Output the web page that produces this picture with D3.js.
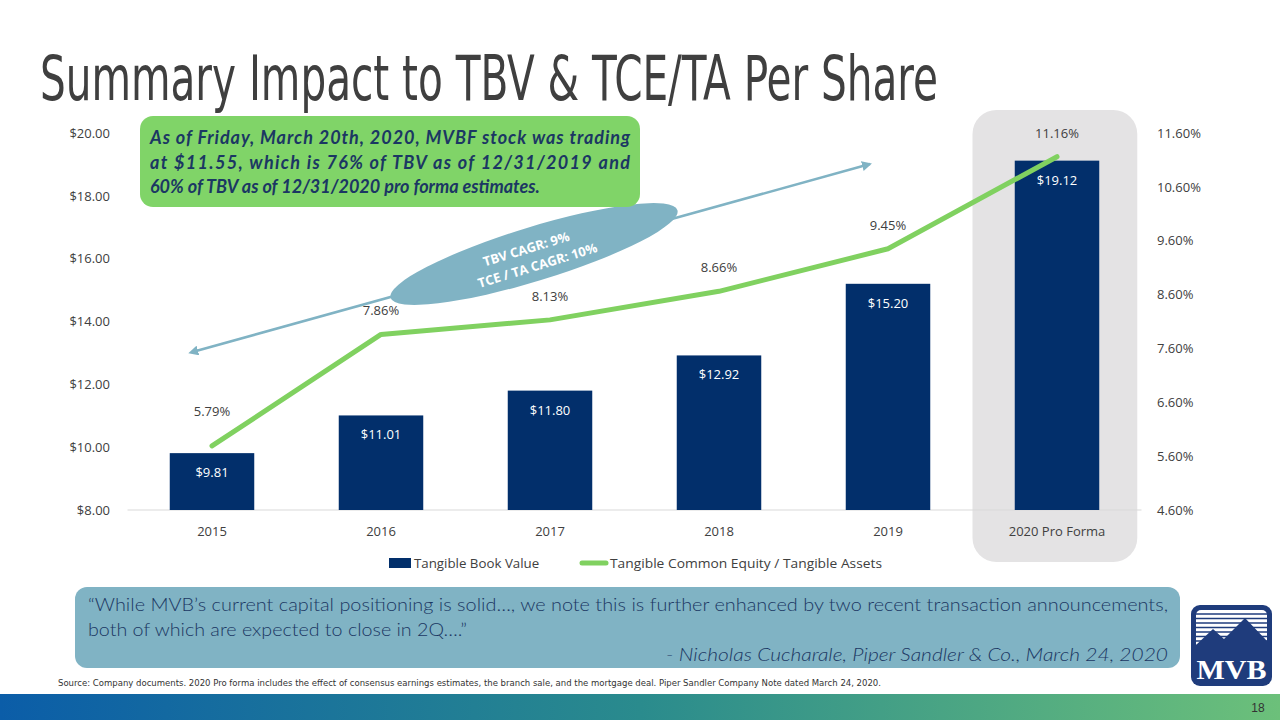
<!DOCTYPE html>
<html>
<head>
<meta charset="utf-8">
<script src="https://cdn.jsdelivr.net/npm/d3@7"></script>
<style>
  html, body { margin: 0; padding: 0; background: #ffffff; }
  svg { display: block; }
</style>
</head>
<body>
<svg id="chart" width="1280" height="720"></svg>
<script>
// ---------- DATA ----------
const categories = ["2015", "2016", "2017", "2018", "2019", "2020 Pro Forma"];
const tbvValues = [9.81, 11.01, 11.80, 12.92, 15.20, 19.12];
const tceValues = [5.79, 7.86, 8.13, 8.66, 9.45, 11.16];
const leftTicks = [8, 10, 12, 14, 16, 18, 20];
const rightTicks = [4.6, 5.6, 6.6, 7.6, 8.6, 9.6, 10.6, 11.6];
const seriesNames = ["Tangible Book Value", "Tangible Common Equity / Tangible Assets"];

const titleText = "Summary Impact to TBV & TCE/TA Per Share";
const calloutLines = [
  "As of Friday, March 20th, 2020, MVBF stock was trading",
  "at $11.55, which is 76% of TBV as of 12/31/2019 and",
  "60% of TBV as of 12/31/2020 pro forma estimates."
];
const cagrLines = ["TBV CAGR: 9%", "TCE / TA CAGR: 10%"];
const quoteLines = [
  "\u201CWhile MVB\u2019s current capital positioning is solid\u2026, we note this is further enhanced by two recent transaction announcements,",
  "both of which are expected to close in 2Q\u2026.\u201D",
  "- Nicholas Cucharale, Piper Sandler & Co., March 24, 2020"
];
const sourceText = "Source: Company documents. 2020 Pro forma includes the effect of consensus earnings estimates, the branch sale, and the mortgage deal. Piper Sandler Company Note dated March 24, 2020.";
const pageNumber = "18";

// ---------- SETUP ----------
const svg = d3.select("#chart");
const BAR = "#022f6b", LINE = "#80d160", TEAL = "#80b3c4", TXT = "#404040", NAVY = "#1b3763";
const FONT = "'Open Sans', 'Noto Sans', sans-serif";

const x = d3.scaleBand().domain(categories).range([127.5, 1141.5]).paddingInner(0.5).paddingOuter(0.25);
const yL = d3.scaleLinear().domain([8, 20]).range([510, 133]);
const yR = d3.scaleLinear().domain([4.6, 11.6]).range([510, 133]);
const bw = x.bandwidth();

// defs
const defs = svg.append("defs");
const grad = defs.append("linearGradient").attr("id", "footGrad").attr("x1", "0").attr("x2", "1").attr("y1", "0").attr("y2", "0");
grad.append("stop").attr("offset", "0%").attr("stop-color", "#0b5da8");
grad.append("stop").attr("offset", "50%").attr("stop-color", "#2a8b8d");
grad.append("stop").attr("offset", "100%").attr("stop-color", "#6cc07a");
["start", "end"].forEach(k => {
  defs.append("marker").attr("id", "arr-" + k)
    .attr("viewBox", "0 0 10 10").attr("refX", k === "end" ? 8 : 2).attr("refY", 5)
    .attr("markerWidth", 4).attr("markerHeight", 4).attr("orient", "auto-start-reverse")
    .append("path").attr("d", "M0,0 L10,5 L0,10 z").attr("fill", TEAL);
});

// ---------- TITLE ----------
svg.append("text").attr("x", 40).attr("y", 100)
  .attr("font-family", "'Liberation Sans Narrow', 'DejaVu Sans Condensed', sans-serif")
  .attr("font-size", 62).attr("fill", "#3f3f3f")
  .attr("textLength", 898).attr("lengthAdjust", "spacingAndGlyphs")
  .text(titleText);

// ---------- HIGHLIGHT COLUMN ----------
const last = categories[categories.length - 1];
svg.append("rect")
  .attr("x", x(last) - bw * 0.5).attr("y", 110)
  .attr("width", bw * 1.95).attr("height", 452)
  .attr("rx", 24).attr("fill", "#e4e3e4");

// baseline
svg.append("line").attr("x1", 127.5).attr("x2", 1141.5).attr("y1", yL(8)).attr("y2", yL(8))
  .attr("stroke", "#d9d9d9").attr("stroke-width", 1);

// ---------- AXES ----------
const axL = svg.append("g").attr("transform", "translate(127,0)")
  .call(d3.axisLeft(yL).tickValues(leftTicks).tickFormat(d => "$" + d.toFixed(2)).tickSize(0).tickPadding(17));
const axR = svg.append("g").attr("transform", "translate(1141,0)")
  .call(d3.axisRight(yR).tickValues(rightTicks).tickFormat(d => d.toFixed(2) + "%").tickSize(0).tickPadding(16));
const axB = svg.append("g").attr("transform", `translate(0,${yL(8)})`)
  .call(d3.axisBottom(x).tickSize(0).tickPadding(17));
[axL, axR, axB].forEach(g => {
  g.select(".domain").remove();
  g.selectAll("text").attr("font-family", FONT).attr("font-size", 13).attr("fill", TXT);
});

// ---------- BARS ----------
svg.append("g").selectAll("rect").data(tbvValues).join("rect")
  .attr("x", (d, i) => x(categories[i])).attr("width", bw)
  .attr("y", d => yL(d)).attr("height", d => yL(8) - yL(d))
  .attr("fill", BAR);
svg.append("g").selectAll("text").data(tbvValues).join("text")
  .attr("x", (d, i) => x(categories[i]) + bw / 2).attr("y", d => yL(d) + 24)
  .attr("text-anchor", "middle").attr("font-family", FONT).attr("font-size", 13).attr("fill", "#ffffff")
  .text(d => "$" + d.toFixed(2));

// ---------- LINE ----------
const line = d3.line().x((d, i) => x(categories[i]) + bw / 2).y(d => yR(d));
svg.append("path").datum(tceValues).attr("d", line)
  .attr("fill", "none").attr("stroke", LINE).attr("stroke-width", 5)
  .attr("stroke-linecap", "round").attr("stroke-linejoin", "round");
svg.append("g").selectAll("text").data(tceValues).join("text")
  .attr("x", (d, i) => x(categories[i]) + bw / 2)
  .attr("y", (d, i) => yR(d) - (i === 0 ? 30 : 19))
  .attr("text-anchor", "middle").attr("font-family", FONT).attr("font-size", 13).attr("fill", TXT)
  .text(d => d.toFixed(2) + "%");

// ---------- LEGEND ----------
const lg = svg.append("g").attr("font-family", FONT).attr("font-size", 13.3).attr("fill", TXT);
lg.append("rect").attr("x", 389).attr("y", 558).attr("width", 22).attr("height", 10).attr("fill", BAR);
lg.append("text").attr("x", 414).attr("y", 568).text(seriesNames[0]);
lg.append("line").attr("x1", 582).attr("x2", 606).attr("y1", 563).attr("y2", 563)
  .attr("stroke", LINE).attr("stroke-width", 5).attr("stroke-linecap", "round");
lg.append("text").attr("x", 610).attr("y", 568).attr("textLength", 272).attr("lengthAdjust", "spacingAndGlyphs").text(seriesNames[1]);

// ---------- CAGR ARROW + ELLIPSE ----------
svg.append("line").attr("x1", 196).attr("y1", 351).attr("x2", 870).attr("y2", 164)
  .attr("stroke", TEAL).attr("stroke-width", 2.5)
  .attr("marker-start", "url(#arr-start)").attr("marker-end", "url(#arr-end)");
const eg = svg.append("g").attr("transform", "translate(534,254) rotate(-17)");
eg.append("ellipse").attr("rx", 150).attr("ry", 27).attr("fill", TEAL);
eg.selectAll("text").data(cagrLines).join("text")
  .attr("x", (d, i) => i === 0 ? -6 : 0).attr("y", (d, i) => i === 0 ? -7 : 12)
  .attr("dy", "0.35em").attr("text-anchor", "middle")
  .attr("font-family", FONT).attr("font-weight", 700).attr("font-size", 13).attr("fill", "#ffffff")
  .text(d => d);

// ---------- GREEN CALLOUT ----------
svg.append("rect").attr("x", 140).attr("y", 116).attr("width", 500).attr("height", 91)
  .attr("rx", 13).attr("fill", "#80d468");
svg.append("g").selectAll("text").data(calloutLines).join("text")
  .attr("x", 150).attr("y", (d, i) => 144 + i * 24.5)
  .attr("font-family", "Lato, 'Open Sans', sans-serif").attr("font-weight", 700).attr("font-style", "italic")
  .attr("font-size", 18).attr("fill", NAVY)
  .each(function (d, i) {
    if (i < 2) d3.select(this).attr("textLength", 480).attr("lengthAdjust", "spacing");
  })
  .text(d => d);

// ---------- QUOTE BOX ----------
svg.append("rect").attr("x", 75).attr("y", 587).attr("width", 1105).attr("height", 81)
  .attr("rx", 12).attr("fill", TEAL);
const qg = svg.append("g").attr("font-family", "Lato, 'Open Sans', sans-serif").attr("font-weight", 300)
  .attr("font-size", 17.5).attr("fill", NAVY);
qg.append("text").attr("x", 88).attr("y", 611).attr("textLength", 1080).attr("lengthAdjust", "spacingAndGlyphs").text(quoteLines[0]);
qg.append("text").attr("x", 88).attr("y", 636).attr("textLength", 379).attr("lengthAdjust", "spacingAndGlyphs").text(quoteLines[1]);
qg.append("text").attr("x", 1168).attr("y", 661).attr("text-anchor", "end").attr("font-style", "italic")
  .attr("textLength", 502).attr("lengthAdjust", "spacingAndGlyphs").text(quoteLines[2]);

// ---------- LOGO ----------
const logo = svg.append("g").attr("transform", "translate(1191,605)");
logo.append("rect").attr("width", 81).attr("height", 81).attr("rx", 9).attr("fill", "#1f3c7c");
logo.append("rect").attr("x", 5).attr("y", 5).attr("width", 71).attr("height", 45).attr("rx", 5).attr("fill", "#ffffff");
d3.range(9, 48, 4.5).forEach(yy => {
  logo.append("line").attr("x1", 5).attr("x2", 76).attr("y1", yy).attr("y2", yy).attr("stroke", "#1f3c7c").attr("stroke-width", 1.3);
});
logo.append("path").attr("d", "M5,48 L5,40 L22,24 L33,34 L54,13 L76,36 L76,52 L5,52 Z").attr("fill", "#1f3c7c");
logo.append("text").attr("x", 40.5).attr("y", 74).attr("text-anchor", "middle")
  .attr("font-family", "'Liberation Serif', 'DejaVu Serif', serif").attr("font-weight", 700)
  .attr("font-size", 27).attr("fill", "#ffffff").attr("textLength", 70).attr("lengthAdjust", "spacingAndGlyphs").text("MVB");

// ---------- SOURCE ----------
svg.append("text").attr("x", 58).attr("y", 686)
  .attr("font-family", "'Liberation Sans Narrow', 'DejaVu Sans Condensed', sans-serif")
  .attr("font-size", 9.5).attr("fill", "#333333")
  .attr("textLength", 823).attr("lengthAdjust", "spacingAndGlyphs").text(sourceText);

// ---------- FOOTER ----------
svg.append("rect").attr("x", 0).attr("y", 694).attr("width", 1280).attr("height", 26).attr("fill", "url(#footGrad)");
svg.append("text").attr("x", 1258).attr("y", 712).attr("text-anchor", "middle")
  .attr("font-family", "'Liberation Sans Narrow', sans-serif").attr("font-size", 12).attr("fill", "#333333")
  .text(pageNumber);
</script>
</body>
</html>
